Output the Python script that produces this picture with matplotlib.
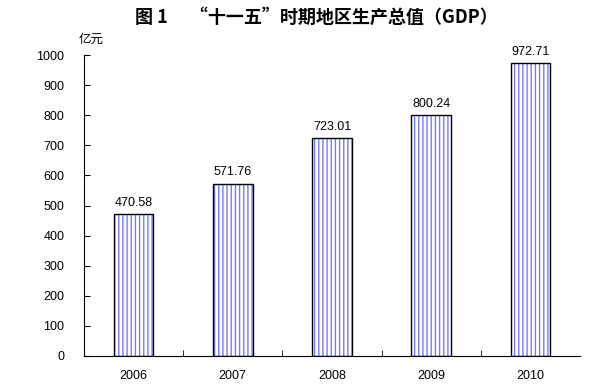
import matplotlib
matplotlib.use("Agg")
import matplotlib.pyplot as plt

plt.rcParams['font.family'] = ['Liberation Sans', 'Noto Sans CJK SC', 'DejaVu Sans']
plt.rcParams['hatch.linewidth'] = 1.0

years = ['2006', '2007', '2008', '2009', '2010']
gdp = [470.58, 571.76, 723.01, 800.24, 972.71]
yticks = [0, 100, 200, 300, 400, 500, 600, 700, 800, 900, 1000]

fig = plt.figure(figsize=(6.14, 3.85), dpi=100)
ax = fig.add_axes([84 / 614, 29 / 385, 496 / 614, 301 / 385])

x = range(len(years))
# blue vertical hatch, then black outline on top
ax.bar(x, gdp, width=0.4, color='white', edgecolor='#7878ff', linewidth=0, hatch='||||')
ax.bar(x, gdp, width=0.4, fill=False, edgecolor='black', linewidth=1.0)

for i, v in enumerate(gdp):
    ax.text(i, v + 18, f'{v:.2f}', ha='center', va='bottom', fontsize=9)

ax.set_xlim(-0.5, len(years) - 0.5)
ax.set_ylim(0, 1000)
ax.set_yticks(yticks)
ax.set_xticks(list(x))
ax.set_xticklabels(years, fontsize=9)
ax.set_xticks([i + 0.5 for i in range(len(years) - 1)], minor=True)
ax.tick_params(axis='x', which='major', length=0, pad=10)
ax.tick_params(axis='x', which='minor', direction='in', length=4)
ax.tick_params(axis='y', direction='in', length=4, labelsize=9, pad=14)

ax.spines['top'].set_visible(False)
ax.spines['right'].set_visible(False)

ax.text(-0.01, 1.03, '亿元', transform=ax.transAxes, ha='left', va='bottom', fontsize=9,
        family=['Noto Sans CJK SC', 'DejaVu Sans'])

fig.text(0.515, 0.955, '图 1　 “十一五”时期地区生产总值（GDP）', ha='center', va='center',
         fontsize=13, fontweight='bold', family=['Noto Sans CJK SC', 'DejaVu Sans'])

fig.savefig('out.png', dpi=100)
